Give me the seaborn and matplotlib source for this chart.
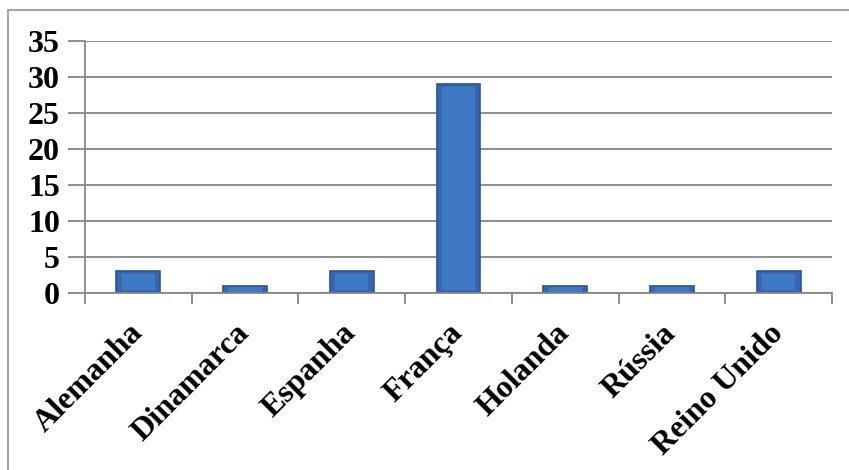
import matplotlib
matplotlib.use("Agg")
import matplotlib.pyplot as plt
from matplotlib.lines import Line2D
import seaborn as sns
import pandas as pd

paises = ["Alemanha", "Dinamarca", "Espanha", "França", "Holanda", "Rússia", "Reino Unido"]
quantidade = [3, 1, 3, 29, 1, 1, 3]
y_ticks = [0, 5, 10, 15, 20, 25, 30, 35]

df = pd.DataFrame({"pais": paises, "qtd": quantidade})

sns.set_theme(style="white")
plt.rcParams["font.family"] = ["Liberation Serif", "DejaVu Serif"]
plt.rcParams["text.color"] = "black"
plt.rcParams["xtick.color"] = "black"
plt.rcParams["ytick.color"] = "black"

fig = plt.figure(figsize=(8.49, 4.70), dpi=100)
ax = fig.add_axes([0.100, 0.377, 0.880, 0.536])

sns.barplot(data=df, x="pais", y="qtd", color="#3568b0", width=0.41,
            edgecolor="#2a5590", linewidth=1.2, saturation=1, ax=ax)

# lighter inner face on each bar for a bevelled look
for p in list(ax.patches):
    x0, w, h = p.get_x(), p.get_width(), p.get_height()
    inset = w * 0.12
    ax.bar(x0 + w / 2, h - min(h * 0.25, 0.7), bottom=min(h * 0.12, 0.35),
           width=w - 2 * inset, color="#3f78c4", linewidth=0, zorder=p.get_zorder() + 0.1)

ax.set_ylim(0, 35)
ax.set_xlim(-0.5, len(paises) - 0.5)
ax.set_yticks(y_ticks)
ax.set_yticklabels([str(v) for v in y_ticks], fontsize=23, fontweight="bold", color="black")
ax.set_xticks(range(len(paises)))
ax.set_xticklabels(paises, fontsize=23, fontweight="bold", rotation=45, color="black",
                   ha="right", va="center", rotation_mode="anchor")
ax.set_xlabel("")
ax.set_ylabel("")

ax.yaxis.grid(True, color="#868686", linewidth=1.3)
ax.set_axisbelow(True)
for side in ["top", "right"]:
    ax.spines[side].set_visible(False)
for side in ["left", "bottom"]:
    ax.spines[side].set_color("#868686")
    ax.spines[side].set_linewidth(1.3)

ax.tick_params(axis="y", which="major", length=12, width=1.3, color="#868686",
               labelcolor="black", direction="out", left=True, pad=6)
ax.tick_params(axis="x", which="major", length=0, pad=26, labelcolor="black")
# category boundary ticks on the x axis
ax.set_xticks([i - 0.5 for i in range(len(paises) + 1)], minor=True)
ax.tick_params(axis="x", which="minor", length=8, width=1.3, color="#868686",
               direction="out", bottom=True)

# chart frame
fig.add_artist(Line2D([0.010, 0.010], [0.0, 0.979], transform=fig.transFigure,
                      color="#a6a6a6", linewidth=1.5))
fig.add_artist(Line2D([0.010, 1.0], [0.979, 0.979], transform=fig.transFigure,
                      color="#a6a6a6", linewidth=1.5))

fig.savefig("out.png", dpi=100)
